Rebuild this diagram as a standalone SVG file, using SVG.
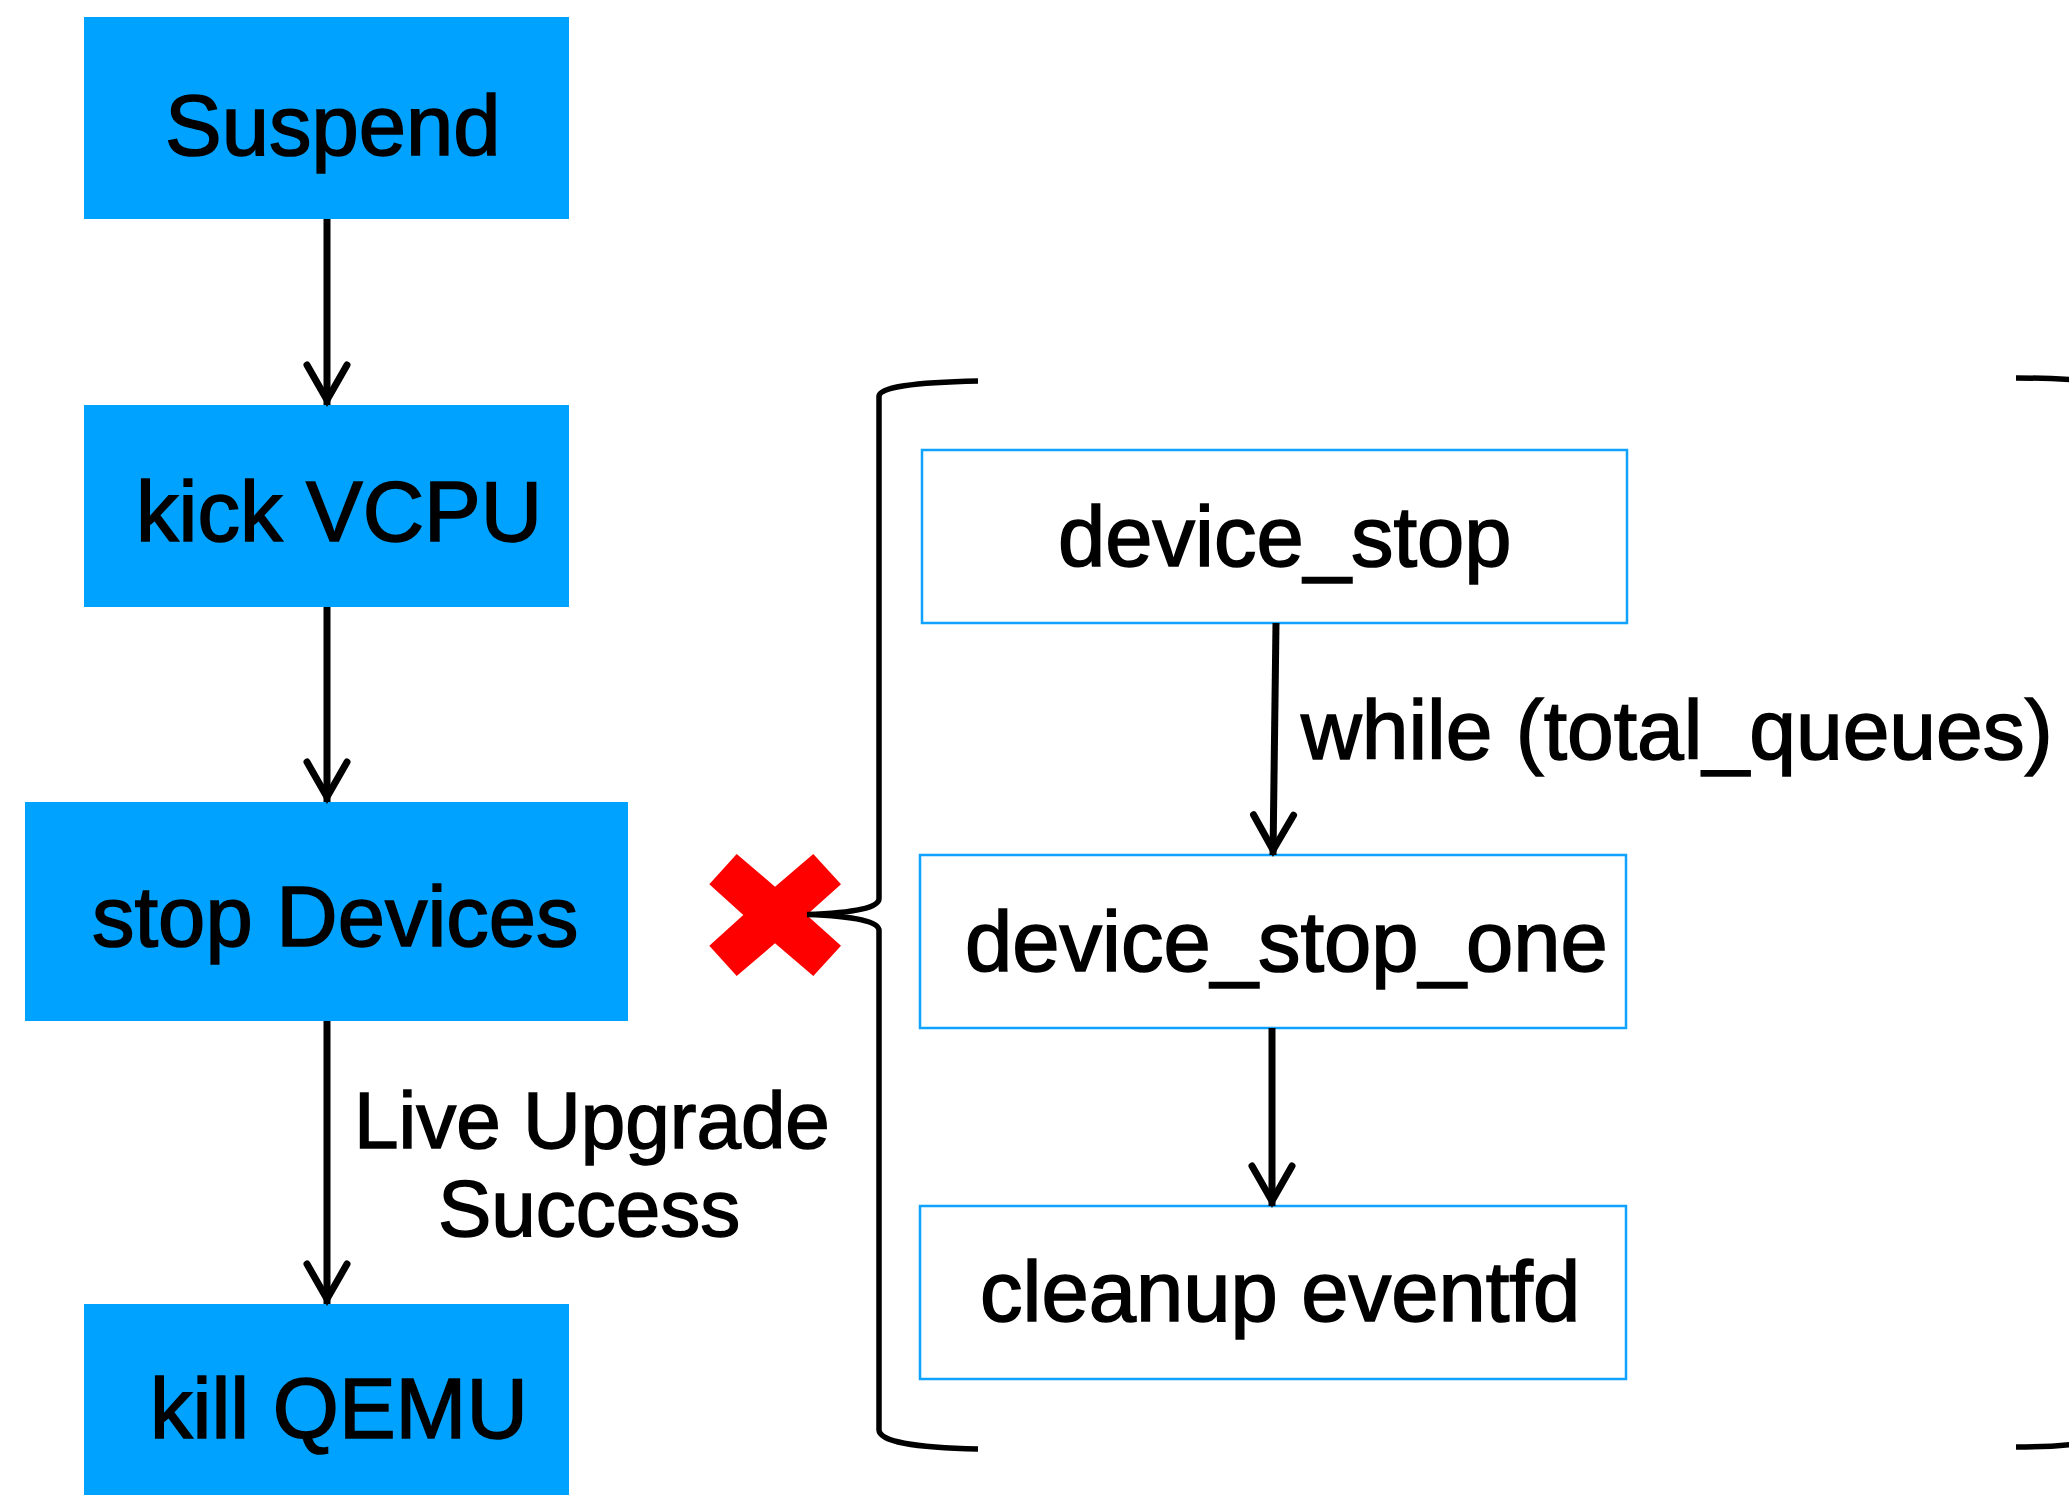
<svg xmlns="http://www.w3.org/2000/svg" width="2069" height="1495" viewBox="0 0 2069 1495">
<style>
.solid{fill:#00a2ff;}
.outline{fill:#ffffff;stroke:#0fa3ff;stroke-width:2.5;}
.t{font-family:"Liberation Sans",Arial,Helvetica,sans-serif;font-size:85px;fill:#000;stroke:#000;stroke-width:1.6;}
.lbl{font-family:"Liberation Sans",Arial,Helvetica,sans-serif;fill:#000;stroke:#000;stroke-width:1.5;}
.conn{fill:none;stroke:#000;stroke-width:7;marker-end:url(#ah);}
.brace{fill:none;stroke:#000;stroke-width:5.5;}
</style>
<defs>
<marker id="ah" markerUnits="userSpaceOnUse" viewBox="-50 -30 60 60" refX="0" refY="0" markerWidth="60" markerHeight="60" orient="auto" overflow="visible">
<path d="M-40,-20 L-5,0 L-40,20" fill="none" stroke="#000" stroke-width="7" stroke-linecap="round" stroke-linejoin="miter"/>
</marker>
</defs>
<rect width="2069" height="1495" fill="#ffffff"/>
<g id="suspend"><rect class="solid" x="84" y="17" width="485" height="202"/><text class="t" x="165" y="155">Suspend</text></g>
<g id="kick-vcpu"><rect class="solid" x="84" y="405" width="485" height="202"/><text class="t" x="136" y="541">kick VCPU</text></g>
<g id="stop-devices"><rect class="solid" x="25" y="802" width="603" height="219"/><text class="t" x="92" y="946">stop Devices</text></g>
<g id="kill-qemu"><rect class="solid" x="84" y="1304" width="485" height="195"/><text class="t" x="150" y="1438">kill QEMU</text></g>
<g id="device-stop"><rect class="outline" x="922" y="450" width="705" height="173"/><text class="t" x="1058" y="566">device_stop</text></g>
<g id="device-stop-one"><rect class="outline" x="920" y="855" width="706" height="173"/><text class="t" x="965" y="971">device_stop_one</text></g>
<g id="cleanup-eventfd"><rect class="outline" x="920" y="1206" width="706" height="173"/><text class="t" x="980" y="1321">cleanup eventfd</text></g>
<g id="fail-mark"><polygon fill="#ff0000" points="736.7,854 775,886.7 813.3,854 841,884.3 806.7,915 841,945.7 813.3,976 775,943.3 736.7,976 709.3,945.7 743.3,915 709.3,884.3"/></g>
<g id="brace-group">
<path class="brace" d="M978,381 Q880,383 879,396 L879,898 Q880,912 807,914.5 Q880,917 879,931 L879,1430 Q880,1447 978,1449"/>
<path class="brace" d="M2016,378 Q2050,378 2075,380"/>
<path class="brace" d="M2016,1447 Q2050,1447 2075,1444"/>
</g>
<g id="connectors">
<path class="conn" d="M327,219 L327,405"/>
<path class="conn" d="M327,607 L327,802"/>
<path class="conn" d="M327,1021 L327,1304"/>
<path class="conn" d="M1276,623 L1273,855"/>
<path class="conn" d="M1272,1028 L1272,1206"/>
<text class="lbl" font-size="80" x="354" y="1148">Live Upgrade</text>
<text class="lbl" font-size="80" x="438" y="1236">Success</text>
<text class="lbl" font-size="84" x="1301" y="759">while (total_queues)</text>
</g>
</svg>
